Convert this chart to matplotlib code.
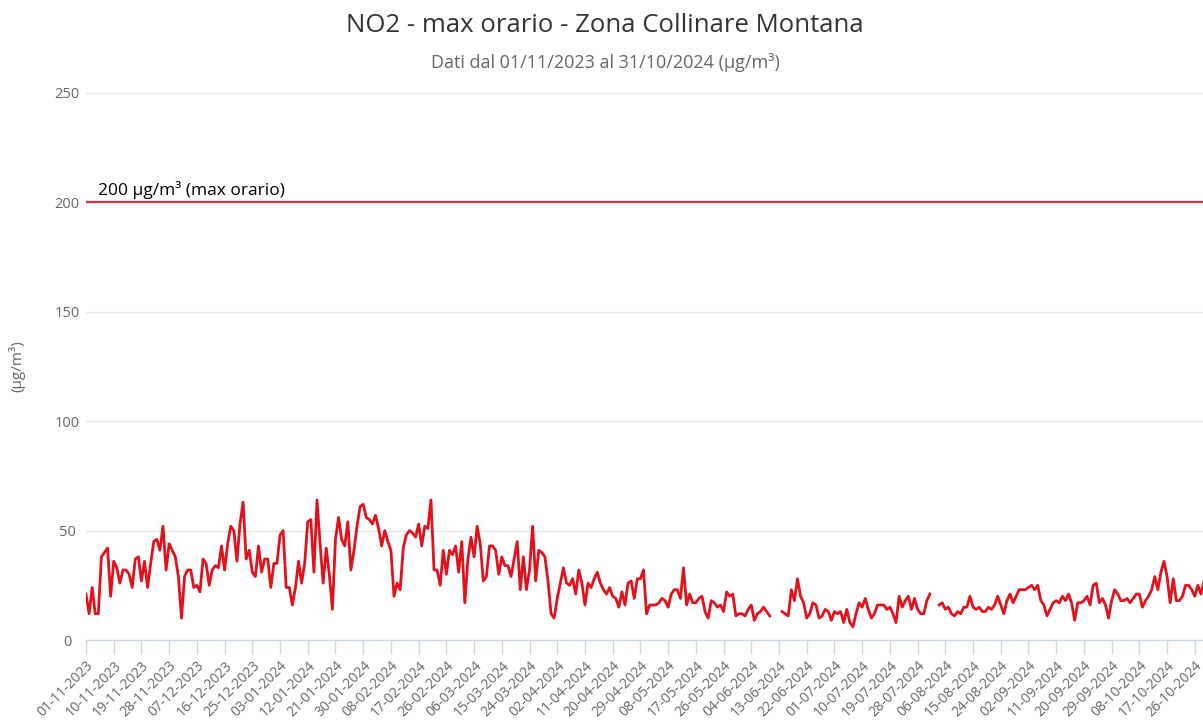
import numpy as np
import pandas as pd
import matplotlib
matplotlib.use("Agg")
import matplotlib.pyplot as plt

# ── data: daily NO2 hourly max, 01-11-2023 onward (NaN = missing day) ──────
START = "2023-11-01"
N_DAYS = 366
nan = np.nan

NO2_MAX = [
    # nov 2023
    21, 12, 24, 12, 12, 38, 40, 42, 20, 36, 33, 26, 32, 32, 30, 24, 37, 38, 27, 36,
    24, 35, 45, 46, 41, 52, 32, 44, 41, 38, 29, 10,
    29, 32, 32, 24, 25, 22, 37, 35, 25, 32, 34, 33, 43, 32, 44, 52, 50, 36, 53, 63,
    37, 41, 31, 29, 43, 31, 37, 37, 24, 35, 35, 48, 50,
    24, 24, 16, 24, 36, 26, 35, 54, 55, 31, 64, 44, 26, 42, 30, 14, 46, 56, 46, 43,
    54, 32, 41, 52, 61, 62, 56, 55, 53, 57, 51, 43,
    50, 45, 41, 20, 26, 23, 42, 48, 50, 49, 47, 53, 43, 52, 51, 64, 32, 32, 25, 41,
    30, 41, 39, 43, 31, 45, 17, 37, 47, 38, 52, 44,
    27, 29, 43, 43, 41, 30, 38, 34, 34, 29, 37, 45, 23, 38, 23, 32, 52, 27, 41, 40,
    38, 27, 12, 10, 19, 26, 33, 26, 25, 28, 21, 32, 26, 16,
    26, 24, 28, 31, 26, 23, 21, 24, 20, 19, 15, 22, 16, 26, 27, 19, 28, 28, 32, 12,
    16, 16, 16, 17, 19, 18, 15, 21, 23, 23, 19, 33,
    16, 21, 17, 17, 19, 20, 13, 10, 18, 17, 15, 16, 13, 22, 20, 21, 11, 12, 12, 11,
    14, 16, 9, 12, 13, 15, 13, 11,
    nan, nan, nan,
    13, 12, 11, 23, 18, 28, 20, 17, 10, 12, 17, 16, 10, 11, 14, 13, 9, 13, 12, 13,
    8, 14, 8, 6, 12, 17, 15, 19, 14, 10, 12, 16, 16,
    16, 14, 15, 12, 8, 20, 15, 18, 20, 14, 19, 14, 12, 12, 18, 21,
    nan, nan,
    16, 17, 14, 15, 12, 11, 13, 12, 15, 15, 20, 15, 14, 15, 13,
    13, 15, 14, 16, 20, 16, 12, 18, 21, 17, 20, 23, 23, 23, 24, 25, 23, 25, 18, 16,
    11, 14, 17, 18, 17, 20, 18, 21, 17, 9, 17, 17, 18,
    20, 16, 25, 26, 17, 19, 16, 10, 18, 23, 21, 18, 18, 19, 17, 19, 21, 21, 15, 18,
    20, 23, 29, 23, 31, 36, 29, 17, 28, 18, 18, 20, 25, 25, 23, 20, 25, 21, 27,
]

LIMIT = 200
LIMIT_LABEL = "200 µg/m³ (max orario)"
Y_TICKS = [0, 50, 100, 150, 200, 250]
TICK_EVERY = 9  # one label every 9 days

TITLE = "NO2 - max orario - Zona Collinare Montana"
SUBTITLE = "Dati dal 01/11/2023 al 31/10/2024 (µg/m³)"
Y_TITLE = "(µg/m³)"

dates = pd.date_range(START, periods=N_DAYS, freq="D")
days = np.arange(len(NO2_MAX))
tick_days = np.arange(0, N_DAYS, TICK_EVERY)
tick_labels = [dates[d].strftime("%d-%m-%Y") for d in tick_days]

# ── figure ──────────────────────────────────────────────────────────────────
plt.rcParams["font.family"] = ["Open Sans", "DejaVu Sans"]

W, H = 1203, 728
fig = plt.figure(figsize=(W / 100, H / 100), dpi=100)
fig.patch.set_facecolor("white")

x0, x1 = 86, 86 + 3.08 * (N_DAYS - 1)
y_top, y_bot = 93, 640
ax = fig.add_axes([x0 / W, (H - y_bot) / H, (x1 - x0) / W, (y_bot - y_top) / H])
ax.set_xlim(0, N_DAYS - 1)
ax.set_ylim(0, 250)

for yv in Y_TICKS[1:]:
    ax.axhline(yv, color="#e6e6e6", lw=1, zorder=0)

ax.axhline(LIMIT, color="#c9353c", lw=1.6, zorder=2)
ax.text(4, LIMIT + 1.5, LIMIT_LABEL, fontsize=12.5, color="#000000",
        ha="left", va="bottom")

ax.plot(days, NO2_MAX, color="#e3111c", lw=2.0, zorder=3,
        solid_joinstyle="round")

for s in ["top", "right", "left"]:
    ax.spines[s].set_visible(False)
ax.spines["bottom"].set_color("#ccd6eb")
ax.spines["bottom"].set_linewidth(1)

ax.set_yticks(Y_TICKS)
ax.set_yticklabels([str(v) for v in Y_TICKS], ha="center")
ax.tick_params(axis="y", length=0, pad=13.5, labelsize=10.5, labelcolor="#666666")

ax.set_xticks(tick_days)
ax.set_xticklabels(tick_labels, rotation=45, ha="right",
                   rotation_mode="anchor")
ax.tick_params(axis="x", length=10, width=1, color="#ccd6eb",
               labelsize=10, labelcolor="#666666", pad=3)

ax.set_ylabel(Y_TITLE, fontsize=11, color="#666666")
ax.yaxis.set_label_coords(-(86 - 25) / (x1 - x0), 0.5)

fig.text(0.503, 1 - 25 / H, TITLE, ha="center", va="center",
         fontsize=18.5, color="#333333")
fig.text(0.503, 1 - 63 / H, SUBTITLE, ha="center", va="center",
         fontsize=13, color="#666666")

fig.savefig("out.png", dpi=100)
